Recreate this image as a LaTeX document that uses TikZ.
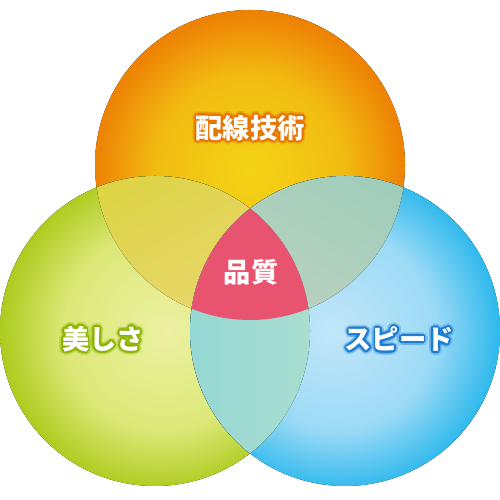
\documentclass[tikz,border=0pt]{standalone}
\usepackage{fontspec}
\newfontfamily\jpfont{Noto Sans CJK JP}
\usetikzlibrary{calc}

\definecolor{orangein}{HTML}{F3D416}
\definecolor{orangemid}{HTML}{F2BC12}
\definecolor{orangeout}{HTML}{EE8204}
\definecolor{greenin}{HTML}{ECF1A2}
\definecolor{greenmid}{HTML}{DCE878}
\definecolor{greenout}{HTML}{A8C814}
\definecolor{bluein}{HTML}{C2E6F9}
\definecolor{bluemid}{HTML}{9CDAF6}
\definecolor{blueout}{HTML}{22B5EC}
\definecolor{tlhigh}{HTML}{DDD444}
\definecolor{tllow}{HTML}{F0D98C}
\definecolor{trhigh}{HTML}{9ECDBA}
\definecolor{trlow}{HTML}{D2D6C2}
\definecolor{lrleft}{HTML}{96D8D4}
\definecolor{lrright}{HTML}{C6E6CA}
\definecolor{quality}{HTML}{E8546F}
\definecolor{gloworange}{HTML}{E67400}
\definecolor{glowgreen}{HTML}{8CB400}
\definecolor{glowblue}{HTML}{1C7CD2}

\pgfdeclareradialshading{orange ball}{\pgfpoint{0bp}{-1bp}}{%
  color(0bp)=(orangein); color(15bp)=(orangemid);
  color(25bp)=(orangeout); color(50bp)=(orangeout)}
\pgfdeclareradialshading{green ball}{\pgfpoint{2bp}{0bp}}{%
  color(0bp)=(greenin); color(16bp)=(greenmid);
  color(27bp)=(greenout); color(50bp)=(greenout)}
\pgfdeclareradialshading{blue ball}{\pgfpoint{-2bp}{0bp}}{%
  color(0bp)=(bluein); color(16bp)=(bluemid);
  color(27bp)=(blueout); color(50bp)=(blueout)}

\tikzset{
  ball/.style={shading=#1},
  label text/.style={
    font=\jpfont\bfseries\fontsize{15.5}{18}\selectfont,
    text=white, inner sep=0pt
  },
}

% white label with a coloured halo
\newcommand{\glowlabel}[4]{%
  \foreach \ang in {0,30,...,330} {
    \node[label text, text=#3, opacity=0.2] at ($(#2)+(\ang:2.3pt)$) {#4};
    \node[label text, text=#3] at ($(#2)+(\ang:1pt)$) {#4};
  }
  \node[label text] (#1) at (#2) {#4};
}

\begin{document}
\begin{tikzpicture}
  \useasboundingbox (0,0) rectangle (10,10);
  \def\R{3.1}

  \coordinate (tech)   at (5,6.7);
  \coordinate (beauty) at (3.1,3.38);
  \coordinate (speed)  at (6.9,3.38);

  % the three circles
  \fill[ball=orange ball] (tech)   circle (\R);
  \fill[ball=green ball]  (beauty) circle (\R);
  \fill[ball=blue ball]   (speed)  circle (\R);

  % overlaps
  \begin{scope}
    \clip (tech) circle (\R);
    \fill[top color=tlhigh, bottom color=tllow, shading angle=30] (beauty) circle (\R);
  \end{scope}
  \begin{scope}
    \clip (tech) circle (\R);
    \fill[top color=trhigh, bottom color=trlow, shading angle=-30] (speed) circle (\R);
  \end{scope}
  \begin{scope}
    \clip (beauty) circle (\R);
    \fill[left color=lrleft, right color=lrright] (speed) circle (\R);
  \end{scope}
  \begin{scope}
    \clip (tech) circle (\R);
    \clip (beauty) circle (\R);
    \fill[quality] (speed) circle (\R);
  \end{scope}

  % labels
  \glowlabel{techlabel}{5,7.44}{gloworange}{配線技術}
  \glowlabel{beautylabel}{2.06,3.22}{glowgreen}{美しさ}
  \glowlabel{speedlabel}{7.98,3.22}{glowblue}{スピード}
  \node[label text] (qualitylabel) at (5.02,4.56) {品質};
\end{tikzpicture}
\end{document}
